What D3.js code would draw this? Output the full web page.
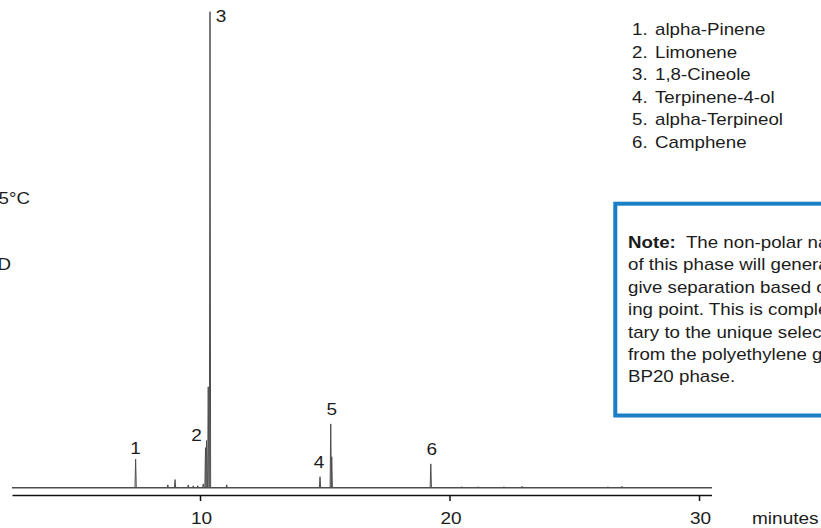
<!DOCTYPE html>
<html>
<head>
<meta charset="utf-8">
<script src="https://cdn.jsdelivr.net/npm/d3@7"></script>
<style>
  html, body { margin: 0; padding: 0; background: #fff; overflow: hidden; }
  svg { display: block; font-family: "Liberation Sans", Arial, Helvetica, sans-serif; }
</style>
</head>
<body>
<svg id="chart" width="821" height="528"></svg>
<script>
// Run window (minutes)
const runStart = 2.465;
const runEnd = 30.5;

// Numbered peaks: retention time (min) and response (% of the largest peak)
const peakIds = ["1", "2", "3", "4", "5", "6"];
const peakTimes = [7.42, 10.26, 10.40, 14.81, 15.24, 19.25];
const peakHeights = [6.0, 9.9, 100, 2.3, 13.4, 5.0];

// Unresolved shoulders and minor peaks in the trace
const minorTimes = [8.71, 9.00, 9.53, 9.73, 9.91, 10.13, 10.22, 10.33, 11.07, 15.28,
                    20.49, 21.15, 22.18, 22.91, 26.35, 26.91];
const minorHeights = [0.6, 1.7, 0.6, 0.4, 0.4, 0.8, 8.4, 21.2, 0.6, 6.5,
                      0.2, 0.2, 0.2, 0.3, 0.2, 0.3];

// Axis ticks
const tickValues = [10, 20, 30];
const axisTitle = "minutes";

// Compound key
const compounds = ["alpha-Pinene", "Limonene", "1,8-Cineole", "Terpinene-4-ol",
                   "alpha-Terpineol", "Camphene"];

// Method conditions (left margin)
const conditions = ["Oven: 60°C to 225°C", "Detector: FID"];

// Note panel text
const noteLead = "Note:";
const noteLines = [
  " The non-polar nature",
  "of this phase will generally",
  "give separation based on boil-",
  "ing point. This is complemen-",
  "tary to the unique selectivity",
  "from the polyethylene glycol",
  "BP20 phase."
];

// ---- layout ----
const SX = 1.17;            // horizontal stretch of the body typeface
const SX_AXIS = 1.12;       // horizontal stretch of axis and peak numbers
const ink = "#1c1c1c";
const traceColor = "#4d4d4d";
const blue = "#1a7fc4";

const svg = d3.select("#chart");

const x = d3.scaleLinear().domain([runStart, runEnd]).range([12, 711.5]);
const y = d3.scaleLinear().domain([0, 100]).range([487.7, 11.7]);
const axisY = 495;
const halfWidth = 0.026;    // peak half-width at base, minutes

function label(g, tx, ty, txt, size, anchor, sx) {
  return g.append("text")
    .attr("transform", `translate(${tx},${ty}) scale(${sx || SX},1)`)
    .attr("text-anchor", anchor || "start")
    .attr("font-size", size)
    .attr("fill", ink)
    .text(txt);
}

// baseline of the trace
svg.append("line")
  .attr("x1", x(runStart)).attr("x2", x(runEnd) + 0.5)
  .attr("y1", y(0)).attr("y2", y(0))
  .attr("stroke", traceColor).attr("stroke-width", 1.5);

// peaks drawn as narrow profiles rising from the baseline
const peakLine = d3.line().x(d => x(d[0])).y(d => y(d[1]));
const allPeaks = peakTimes.map((t, i) => [t, peakHeights[i]])
  .concat(minorTimes.map((t, i) => [t, minorHeights[i]]));

svg.append("g").selectAll("path")
  .data(allPeaks)
  .join("path")
  .attr("d", d => peakLine([[d[0] - halfWidth, 0], [d[0], d[1]], [d[0] + halfWidth, 0]]))
  .attr("fill", "none")
  .attr("stroke", traceColor)
  .attr("stroke-width", 1)
  .attr("stroke-linejoin", "miter");

// peak numbers
const labelOffsets = [[0, -5], [-10, 0], [11, 10], [-1, -8.5], [1, -9], [1, -9]];
const lbl = svg.append("g");
peakIds.forEach((id, i) => {
  const [dx, dy] = labelOffsets[i];
  label(lbl, x(peakTimes[i]) + dx, y(peakHeights[i]) + dy, id, 17, "middle", SX_AXIS);
});

// time axis
const axis = d3.axisBottom(x)
  .tickValues(tickValues)
  .tickSize(6)
  .tickSizeOuter(0)
  .tickPadding(11)
  .tickFormat(d3.format("d"));

const ag = svg.append("g")
  .attr("transform", `translate(0,${axisY})`)
  .call(axis);
ag.select(".domain").attr("stroke", "#111").attr("stroke-width", 1.6);
ag.selectAll(".tick line").attr("stroke", "#111").attr("stroke-width", 1.5);
ag.selectAll(".tick text")
  .attr("font-size", 17)
  .attr("font-family", "Liberation Sans, Arial, sans-serif")
  .attr("fill", ink)
  .attr("transform", `translate(1,0) scale(${SX_AXIS},1)`);

label(svg, 752, 524, axisTitle, 17, "start", SX_AXIS);

// compound key
const key = svg.append("g");
compounds.forEach((c, i) => {
  const by = 35 + i * 22.5;
  label(key, 632, by, `${i + 1}.`, 16, "start");
  label(key, 655, by, c, 16, "start");
});

// method conditions
label(svg, 30, 204, conditions[0], 16, "end");
label(svg, 11, 270, conditions[1], 16, "end");

// note panel
svg.append("rect")
  .attr("x", 615.3).attr("y", 203.7)
  .attr("width", 260).attr("height", 211.8)
  .attr("fill", "#fff")
  .attr("stroke", blue).attr("stroke-width", 4);

const note = svg.append("g");
noteLines.forEach((line, i) => {
  const by = 248 + i * 22.4;
  if (i === 0) {
    const t = note.append("text")
      .attr("transform", `translate(628,${by}) scale(${SX},1)`)
      .attr("font-size", 16)
      .attr("fill", ink)
      .attr("xml:space", "preserve")
      .style("white-space", "pre");
    t.append("tspan").attr("font-weight", "bold").text(noteLead);
    t.append("tspan").text(" " + line);
  } else {
    label(note, 628, by, line, 16, "start");
  }
});
</script>
</body>
</html>
